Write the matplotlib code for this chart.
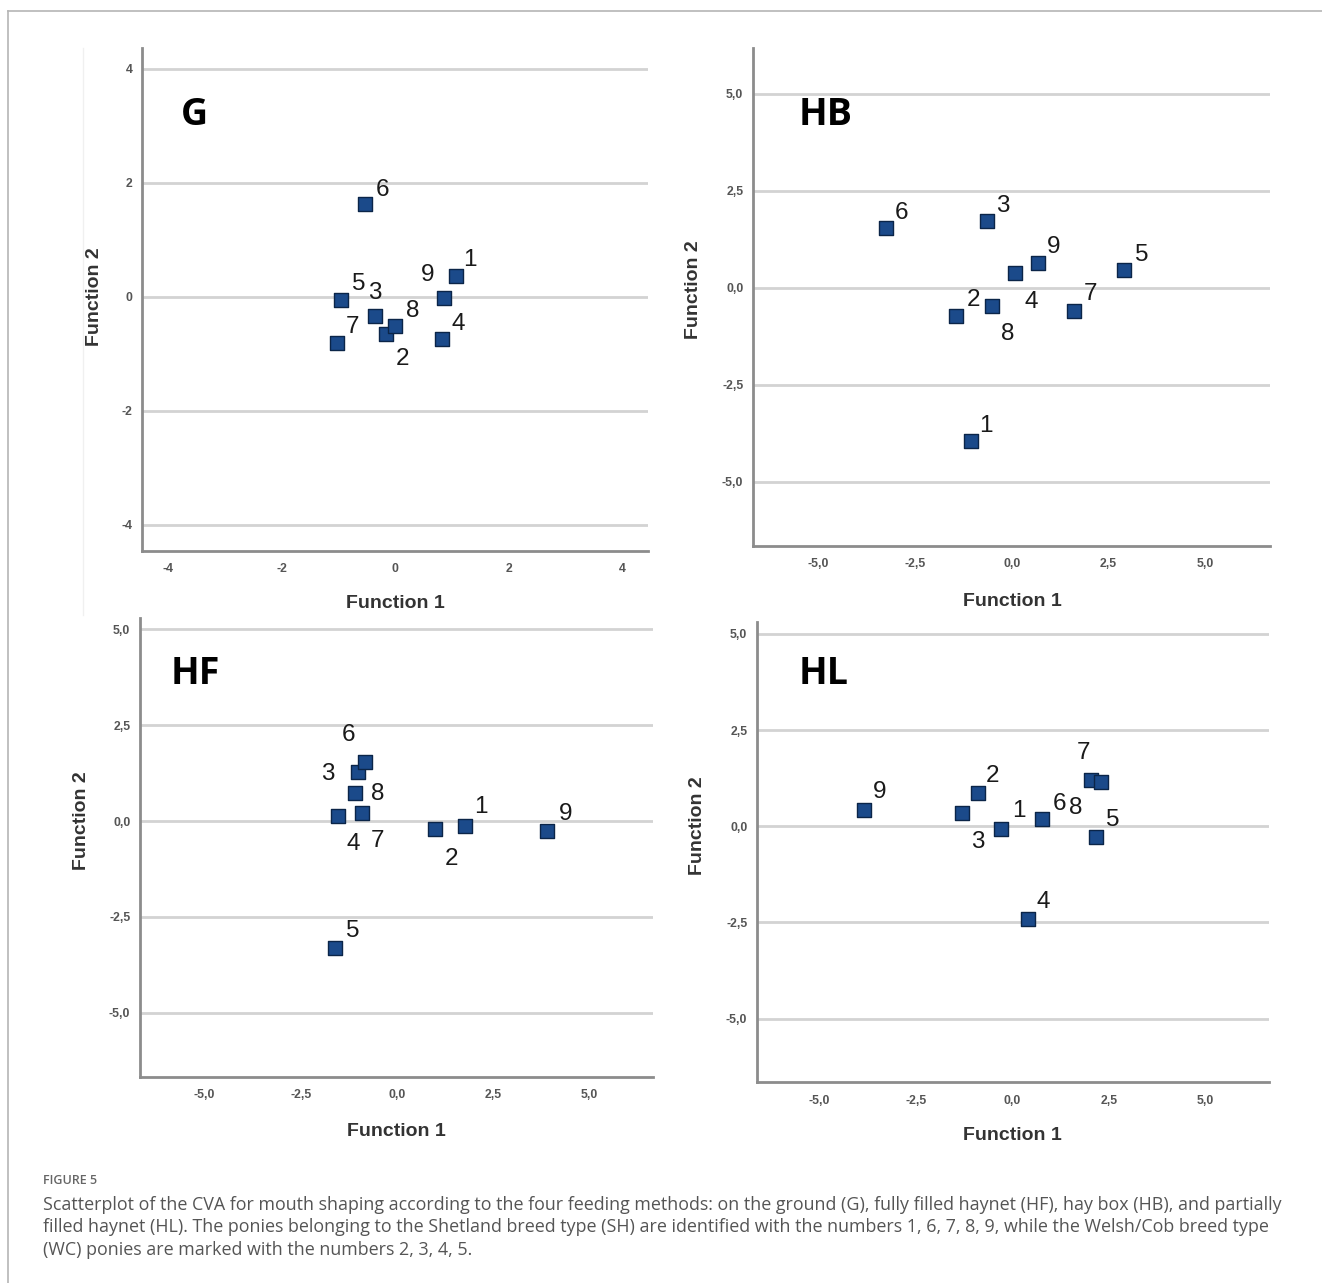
import matplotlib
matplotlib.use("Agg")
import matplotlib.pyplot as plt
from matplotlib.lines import Line2D

W, H = 1322, 1283
DPI = 100

# ---------------- data ----------------
ids = ["1", "2", "3", "4", "5", "6", "7", "8", "9"]

g_x = [1.07, -0.16, -0.36, 0.83, -0.95, -0.53, -1.03, 0.00, 0.85]
g_y = [0.37, -0.66, -0.34, -0.74, -0.05, 1.63, -0.82, -0.51, -0.02]

hb_x = [-1.06, -1.43, -0.65, 0.09, 2.91, -3.25, 1.60, -0.50, 0.68]
hb_y = [-3.96, -0.73, 1.72, 0.38, 0.46, 1.53, -0.59, -0.46, 0.64]

hf_x = [1.76, 1.00, -1.02, -1.52, -1.60, -0.83, -0.90, -1.10, 3.91]
hf_y = [-0.13, -0.22, 1.28, 0.12, -3.32, 1.54, 0.21, 0.74, -0.27]

hl_x = [-0.28, -0.89, -1.31, 0.40, 2.18, 0.78, 2.05, 2.30, -3.84]
hl_y = [-0.06, 0.86, 0.34, -2.41, -0.27, 0.19, 1.19, 1.14, 0.41]

g_ticks = [-4, -2, 0, 2, 4]
g_ticklabels = ["-4", "-2", "0", "2", "4"]
h_ticks = [-5.0, -2.5, 0.0, 2.5, 5.0]
h_ticklabels = ["-5,0", "-2,5", "0,0", "2,5", "5,0"]

panel_names = ["G", "HB", "HF", "HL"]
x_title = "Function 1"
y_title = "Function 2"

caption_head = "FIGURE 5"
caption_lines = [
    "Scatterplot of the CVA for mouth shaping according to the four feeding methods: on the ground (G), fully filled haynet (HF), hay box (HB), and partially",
    "filled haynet (HL). The ponies belonging to the Shetland breed type (SH) are identified with the numbers 1, 6, 7, 8, 9, while the Welsh/Cob breed type",
    "(WC) ponies are marked with the numbers 2, 3, 4, 5.",
]

# ---------------- layout / style (pixels) ----------------
# label offsets in pixels (dx, dy up), ordered as ids
g_off = [(14, 16), (16, -25), (0, 23), (16, 15), (17, 16), (17, 14), (16, 16), (17, 15), (-16, 23)]
hb_off = [(15, 15), (17, 16), (16, 15), (16, -29), (17, 15), (16, 15), (17, 17), (15, -28), (16, 16)]
hf_off = [(16, 19), (16, -30), (-30, -2), (15, -28), (17, 17), (-16, 27), (15, -28), (23, -1), (18, 17)]
hl_off = [(17, 18), (15, 17), (16, -29), (16, 17), (16, 17), (17, 15), (-8, 27), (-25, -26), (16, 18)]

panels = [
    ("G", g_x, g_y, g_off, (142, 48, 648, 551), (-4.46, 4.45), (-4.46, 4.36), g_ticks, g_ticklabels,
     (194, 115), (395, 603), (95, 297)),
    ("HB", hb_x, hb_y, hb_off, (753, 48, 1270, 546), (-6.68, 6.67), (-6.66, 6.18), h_ticks, h_ticklabels,
     (826, 115), (1012, 601), (693, 290)),
    ("HF", hf_x, hf_y, hf_off, (140, 618, 653, 1077), (-6.68, 6.66), (-6.67, 5.29), h_ticks, h_ticklabels,
     (195, 674), (396, 1132), (81, 821)),
    ("HL", hl_x, hl_y, hl_off, (757, 622, 1269, 1082), (-6.61, 6.65), (-6.65, 5.31), h_ticks, h_ticklabels,
     (824, 674), (1012, 1135), (697, 826)),
]

marker_face = "#1b4a8a"
marker_edge = "#0b2548"
grid_col = "#d3d3d3"
spine_col = "#8c8c8c"
tick_col = "#555555"

fig = plt.figure(figsize=(W / DPI, H / DPI), dpi=DPI)
fig.patch.set_facecolor("white")


def fx(px):
    return px / W


def fy(py):
    return 1 - py / H


for (name, xs, ys, offs, box, xl, yl, ticks, tlabels, lpos, xtp, ytp) in panels:
    l, t, r, b = box
    ax = fig.add_axes([fx(l), fy(b), (r - l) / W, (b - t) / H])
    ax.set_xlim(*xl)
    ax.set_ylim(*yl)
    ax.set_facecolor("none")
    for s in ["top", "right"]:
        ax.spines[s].set_visible(False)
    for s in ["left", "bottom"]:
        ax.spines[s].set_color(spine_col)
        ax.spines[s].set_linewidth(2.0)
    ax.set_xticks(ticks)
    ax.set_xticklabels(tlabels)
    ax.set_yticks(ticks)
    ax.set_yticklabels(tlabels)
    ax.tick_params(axis="both", length=0, labelsize=8.8, labelcolor=tick_col)
    ax.tick_params(axis="x", pad=9)
    ax.tick_params(axis="y", pad=7)
    for lab in ax.get_xticklabels() + ax.get_yticklabels():
        lab.set_fontweight("bold")
        lab.set_family("Liberation Sans")
    ax.yaxis.grid(True, color=grid_col, linewidth=2.0)
    ax.xaxis.grid(False)
    ax.set_axisbelow(True)

    ax.scatter(xs, ys, marker="s", s=112, c=marker_face, edgecolors=marker_edge,
               linewidths=1.0, zorder=3)
    for lab, x, y, (dx, dy) in zip(ids, xs, ys, offs):
        ax.annotate(lab, (x, y), xytext=(dx, dy), textcoords="offset pixels",
                    ha="center", va="center", fontsize=17.5, color="#1a1a1a",
                    family="Liberation Sans", zorder=4)

    fig.text(fx(lpos[0]), fy(lpos[1]), name, ha="center", va="center",
             fontsize=27, fontweight="bold", family="Open Sans", color="black")
    fig.text(fx(xtp[0]), fy(xtp[1]), x_title, ha="center", va="center",
             fontsize=14, fontweight="bold", family="Liberation Sans", color="#333333")
    fig.text(fx(ytp[0]), fy(ytp[1]), y_title, ha="center", va="center", rotation=90,
             fontsize=14, fontweight="bold", family="Liberation Sans", color="#333333")

# frame lines
fig.add_artist(Line2D([fx(8), fx(W)], [fy(11), fy(11)], color="#b5b5b5", linewidth=1.2))
fig.add_artist(Line2D([fx(8), fx(8)], [fy(11), fy(H)], color="#b5b5b5", linewidth=1.2))
fig.add_artist(Line2D([fx(83), fx(83)], [fy(48), fy(615)], color="#f0f0f0", linewidth=1.0))

# caption
fig.text(fx(43), fy(1180), caption_head, ha="left", va="center", fontsize=9,
         fontweight="semibold", family="Open Sans", color="#666666")
for i, line in enumerate(caption_lines):
    fig.text(fx(43), fy(1205 + i * 22.5), line, ha="left", va="center",
             fontsize=12.9, family="Open Sans", color="#555555")

fig.savefig("out.png", dpi=DPI, facecolor="white")
